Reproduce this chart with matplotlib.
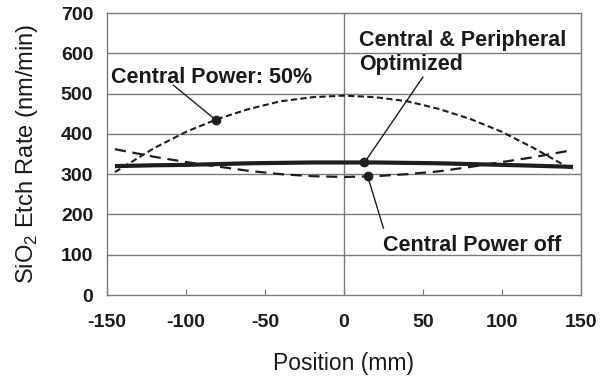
import matplotlib
matplotlib.use("Agg")
import matplotlib.pyplot as plt

plt.rcParams['font.family'] = ['Liberation Sans', 'DejaVu Sans']
plt.rcParams['mathtext.fontset'] = 'custom'
plt.rcParams['mathtext.rm'] = 'Liberation Sans'

# Data
pos = [-145, -120, -100, -80, -60, -40, -20, 0, 20, 40, 60, 80, 100, 120, 145]
central_50 = [305, 365, 405, 437, 462, 481, 491, 495, 491, 481, 462, 437, 405, 365, 310]
central_off = [362, 343, 330, 319, 308, 300, 295, 293, 295, 300, 307, 318, 330, 342, 360]
optimized = [320, 322, 323, 325, 327, 328, 329, 329, 329, 328, 327, 325, 323, 321, 318]

xticks = [-150, -100, -50, 0, 50, 100, 150]
yticks = [0, 100, 200, 300, 400, 500, 600, 700]

fig = plt.figure(figsize=(6.07, 3.76), dpi=100)
ax = fig.add_axes([0.1763, 0.2154, 0.957 - 0.1763, 0.9654 - 0.2154])

grid_c = '#7a7a7a'
for y in yticks[1:-1]:
    ax.axhline(y, color=grid_c, lw=1.0, zorder=1)
ax.axvline(0, color=grid_c, lw=1.0, zorder=1)

line_c = '#1e1e1e'
ax.plot(pos, central_50, color=line_c, lw=1.5, dashes=(3, 1.6), zorder=3)
ax.plot(pos, central_off, color=line_c, lw=1.6, dashes=(5, 3), zorder=3)
ax.plot(pos, optimized, color=line_c, lw=3.0, solid_capstyle='butt', zorder=4)

ax.set_xlim(-150, 150)
ax.set_ylim(0, 700)
ax.set_xticks(xticks)
ax.set_yticks(yticks)
ax.set_xticklabels([str(v) for v in xticks], fontsize=14, fontweight='bold', color='#1a1a1a')
ax.set_yticklabels([str(v) for v in yticks], fontsize=14, fontweight='bold', color='#1a1a1a')
ax.tick_params(axis='x', direction='in', length=4, color=grid_c, pad=14)
ax.tick_params(axis='y', length=0, pad=10)
for s in ax.spines.values():
    s.set_color(grid_c)
    s.set_linewidth(1.0)

ax.set_xlabel('Position (mm)', fontsize=16.5, color='#1a1a1a', labelpad=15)
ax.set_ylabel('SiO$_2$ Etch Rate (nm/min)', fontsize=17, color='#1a1a1a', labelpad=15)

# Annotations
ann_kw = dict(fontsize=15.5, fontweight='bold', color='#1a1a1a')
ax.text(-147.5, 541, 'Central Power: 50%', ha='left', va='center', **ann_kw)
ax.plot([-108, -81], [521, 434], color=line_c, lw=1.0, zorder=5)
ax.plot([-81], [434], 'o', color=line_c, ms=6, zorder=6)

ax.text(9.5, 633, 'Central & Peripheral', ha='left', va='center', **ann_kw)
ax.text(9.5, 571, 'Optimized', ha='left', va='center', **ann_kw)
ax.plot([50, 13], [541, 329], color=line_c, lw=1.0, zorder=5)
ax.plot([13], [329], 'o', color=line_c, ms=6, zorder=6)

ax.text(24.7, 122, 'Central Power off', ha='left', va='center', **ann_kw)
ax.plot([15, 25], [295, 166], color=line_c, lw=1.0, zorder=5)
ax.plot([15], [295], 'o', color=line_c, ms=6, zorder=6)

fig.savefig('out.png', dpi=100)
